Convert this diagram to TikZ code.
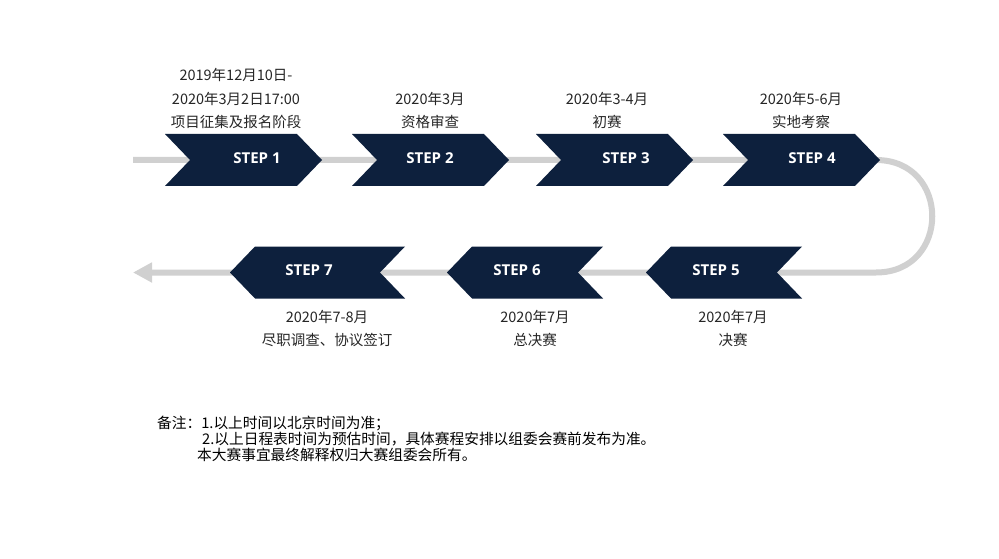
\documentclass[tikz,border=0pt]{standalone}
\usepackage{fontspec}
\newfontfamily\cjk{Noto Sans CJK SC}
\newfontfamily\stepfont{Open Sans}
\usetikzlibrary{arrows.meta}
\definecolor{navy}{HTML}{0D203D}
\definecolor{track}{HTML}{D0D0D0}
\definecolor{txt}{HTML}{262626}
\tikzset{
  steptext/.style={font=\stepfont\bfseries\fontsize{15}{17}\selectfont, text=white, inner sep=0pt},
  lbl/.style={font=\cjk\fontsize{14.5}{17}\selectfont, text=txt, inner sep=0pt},
  note/.style={font=\cjk\fontsize{14.7}{16}\selectfont, text=black, inner sep=0pt, anchor=west},
  chev/.style={fill=navy},
  trackline/.style={draw=track, line width=6pt}
}
\begin{document}
\begin{tikzpicture}[x=1pt,y=-1pt]
\useasboundingbox[fill=white] (0,0) rectangle (999,559);
% track
\coordinate (start) at (133,160);
\coordinate (turnA) at (876,160);
\coordinate (turnB) at (876,272.5);
\coordinate (finish) at (133,272.5);
\draw[trackline,-{Triangle[length=19pt,width=19pt]}] (start) -- (turnA) .. controls (951,160) and (951,272.5) .. (turnB) -- (finish);
% top chevrons
\fill[chev] (165,134) -- (297,134) -- (322,160) -- (297,186) -- (165,186) -- (190,160) -- cycle;
\fill[chev] (352,134) -- (484,134) -- (509,160) -- (484,186) -- (352,186) -- (377,160) -- cycle;
\fill[chev] (536,134) -- (668,134) -- (693,160) -- (668,186) -- (536,186) -- (561,160) -- cycle;
\fill[chev] (723,134) -- (855,134) -- (880,160) -- (855,186) -- (723,186) -- (748,160) -- cycle;
% bottom chevrons
\fill[chev] (646,272.5) -- (671,246.5) -- (802,246.5) -- (777,272.5) -- (802,298.5) -- (671,298.5) -- cycle;
\fill[chev] (447,272.5) -- (472,246.5) -- (603,246.5) -- (578,272.5) -- (603,298.5) -- (472,298.5) -- cycle;
\fill[chev] (230,272.5) -- (255,246.5) -- (405,246.5) -- (380,272.5) -- (405,298.5) -- (255,298.5) -- cycle;
% step texts
\node[steptext] (s1) at (257,158) {STEP 1};
\node[steptext] (s2) at (430,158) {STEP 2};
\node[steptext] (s3) at (626,158) {STEP 3};
\node[steptext] (s4) at (812,158) {STEP 4};
\node[steptext] (s5) at (716,270.5) {STEP 5};
\node[steptext] (s6) at (517,270.5) {STEP 6};
\node[steptext] (s7) at (309,270.5) {STEP 7};
% labels top
\node[lbl] (l1a) at (236,75) {2019年12月10日-};
\node[lbl] (l1b) at (236,99) {2020年3月2日17:00};
\node[lbl] (l1c) at (236,122) {项目征集及报名阶段};
\node[lbl] (l2a) at (430,99) {2020年3月};
\node[lbl] (l2b) at (430,122) {资格审查};
\node[lbl] (l3a) at (607,99) {2020年3-4月};
\node[lbl] (l3b) at (607,122) {初赛};
\node[lbl] (l4a) at (801,99) {2020年5-6月};
\node[lbl] (l4b) at (801,122) {实地考察};
% labels bottom
\node[lbl] (l5a) at (733,317) {2020年7月};
\node[lbl] (l5b) at (733,340) {决赛};
\node[lbl] (l6a) at (535,317) {2020年7月};
\node[lbl] (l6b) at (535,340) {总决赛};
\node[lbl] (l7a) at (327,317) {2020年7-8月};
\node[lbl] (l7b) at (327,340) {尽职调查、协议签订};
% notes
\node[note] (n1) at (157,423) {备注：1.以上时间以北京时间为准；};
\node[note] (n2) at (202,439) {2.以上日程表时间为预估时间，具体赛程安排以组委会赛前发布为准。};
\node[note] (n3) at (197,455) {本大赛事宜最终解释权归大赛组委会所有。};
\end{tikzpicture}
\end{document}
